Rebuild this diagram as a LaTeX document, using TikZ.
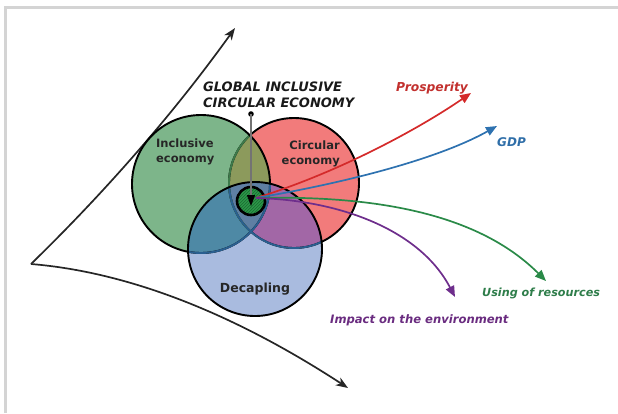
\documentclass[tikz,border=0pt]{standalone}
\usepackage{fontspec}
\setmainfont{DejaVu Sans}
\usetikzlibrary{arrows.meta,calc}
\definecolor{cG}{HTML}{7DB58A}
\definecolor{cR}{HTML}{F27B7B}
\definecolor{cB}{HTML}{A9BBDF}
\definecolor{cGR}{HTML}{8C9A5C}
\definecolor{cGB}{HTML}{4E89A5}
\definecolor{cRB}{HTML}{A267A6}
\definecolor{cGRB}{HTML}{5F7FA3}
\definecolor{lnG}{HTML}{3D7A4A}
\definecolor{lnB}{HTML}{2A5F90}
\definecolor{hubG}{HTML}{2E9A4A}
\definecolor{hubH}{HTML}{1B6E33}
\definecolor{aRed}{HTML}{D42A2A}
\definecolor{aBlue}{HTML}{2E72B0}
\definecolor{aGreen}{HTML}{2A8A48}
\definecolor{aPurple}{HTML}{6E2E8C}
\definecolor{tRed}{HTML}{C2302E}
\definecolor{tBlue}{HTML}{2F6EA8}
\definecolor{tGreen}{HTML}{2E7D4A}
\definecolor{tPurple}{HTML}{6A2C80}
\definecolor{frame}{HTML}{D4D4D4}
\begin{document}
\begin{tikzpicture}[x=1pt,y=-1pt,
  lbl/.style={font=\bfseries\fontsize{11.5}{15}\selectfont, text=black!85, inner sep=0},
  ttl/.style={font=\bfseries\itshape\fontsize{13}{16}\selectfont, text=black!90, inner sep=0, align=left},
  clbl/.style={font=\bfseries\itshape\fontsize{11.5}{14}\selectfont, inner sep=0},
  ring/.style={line width=1.9pt},
  axis/.style={line width=1.7pt, black!85, -{Stealth[length=12pt,width=9pt,inset=3.5pt]}},
  flow/.style={line width=1.7pt, -{Triangle[length=11pt,width=9pt]}}
]
\useasboundingbox (0,0) rectangle (618,413);
% frame
\draw[frame, line width=3pt] (5,413) -- (5,7) -- (618,7);

% circle centres
\coordinate (cg) at (201,184);
\coordinate (cr) at (294,183);
\coordinate (cb) at (255,249);
\def\rG{69}\def\rR{65}\def\rB{67}

% axes
\coordinate (o) at (31,264);
\coordinate (ytip) at (235,28);
\coordinate (xtip) at (348,388);
\draw[axis] (o) .. controls (106,191) and (174,113) .. (ytip);
\draw[axis] (o) .. controls (128,272) and (233,313) .. (xtip);

% fills
\fill[cR] (cr) circle (\rR);
\fill[cG] (cg) circle (\rG);
\fill[cB] (cb) circle (\rB);
\begin{scope}\clip (cg) circle (\rG); \fill[cGR] (cr) circle (\rR); \fill[cGB] (cb) circle (\rB); \end{scope}
\begin{scope}\clip (cr) circle (\rR); \fill[cRB] (cb) circle (\rB); \end{scope}
\begin{scope}\clip (cg) circle (\rG); \clip (cr) circle (\rR); \fill[cGRB] (cb) circle (\rB); \end{scope}

% outlines
\draw[ring] (cr) circle (\rR);
\begin{scope}\clip (cg) circle (\rG); \draw[ring, lnG] (cr) circle (\rR); \end{scope}
\draw[ring] (cg) circle (\rG);
\begin{scope}\clip (cb) circle (\rB); \draw[ring, lnB] (cr) circle (\rR); \draw[ring, lnB] (cg) circle (\rG); \end{scope}
\draw[ring] (cb) circle (\rB);

% hub
\coordinate (hc) at (251,201);
\fill[hubG] (hc) circle (13);
\begin{scope}
  \clip (hc) circle (13);
  \foreach \k in {-30,-27,...,30} { \draw[hubH, line width=0.7pt] ($(hc)+(\k-15,15)$) -- ($(hc)+(\k+15,-15)$); }
\end{scope}
\node[circle, draw, line width=2.6pt, minimum size=28pt, inner sep=0] (hub) at (hc) {};

% flows
\coordinate (start) at (256,198);
\coordinate (tProsp) at (471,93);
\coordinate (tGDP) at (497,126);
\coordinate (tRes) at (546,281);
\coordinate (tImp) at (455,297);
\draw[flow, aRed] (start) .. controls (340,172) and (420,128) .. (tProsp);
\draw[flow, aBlue] (start) .. controls (350,182) and (440,158) .. (tGDP);
\draw[flow, aGreen] (start) .. controls (380,195) and (480,215) .. (tRes);
\draw[flow, aPurple] (start) .. controls (340,200) and (420,230) .. (tImp);

% pointer from title
\coordinate (dot) at (251,114);
\fill (dot) circle (2.8);
\draw[line width=1.2pt, black!55, -{Triangle[length=11pt,width=8pt,black]}] (dot) -- (251,206);

% labels
\node[ttl, anchor=west] (title) at (203,95) {GLOBAL INCLUSIVE\\CIRCULAR ECONOMY};
\node[lbl, anchor=west, align=left] (inc) at (156,151.5) {Inclusive\\economy};
\node[lbl, anchor=east, align=right] (circ) at (340,153.5) {Circular\\economy};
\node[lbl, font=\bfseries\fontsize{12.5}{15}\selectfont] (dec) at (255,289) {Decapling};
\node[clbl, tRed, anchor=west, font=\bfseries\itshape\fontsize{12.3}{14}\selectfont] (prosp) at (396,88) {Prosperity};
\node[clbl, tBlue, anchor=west, font=\bfseries\itshape\fontsize{12}{14}\selectfont] (gdp) at (497,142) {GDP};
\node[clbl, tGreen, anchor=west, font=\bfseries\itshape\fontsize{11.2}{14}\selectfont] (res) at (482,293) {Using of resources};
\node[clbl, tPurple, anchor=west, font=\bfseries\itshape\fontsize{11.6}{14}\selectfont] (imp) at (330,320) {Impact on the environment};
\end{tikzpicture}
\end{document}
